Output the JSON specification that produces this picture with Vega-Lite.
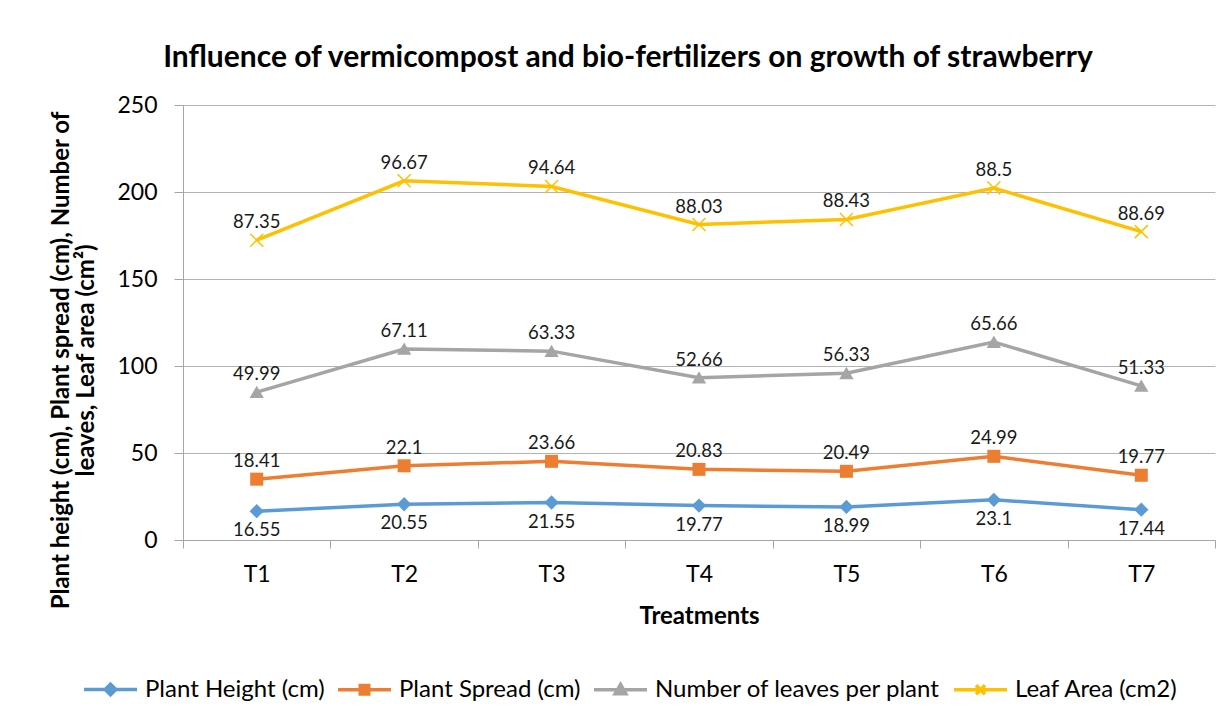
{
  "$schema": "https://vega.github.io/schema/vega-lite/v6.json",
  "width": 1032,
  "height": 435,
  "autosize": {"type": "none"},
  "padding": {"left": 183, "top": 105, "right": 16, "bottom": 181},
  "background": "white",
  "config": {"view": {"stroke": null}, "font": "Lato"},
  "title": {"text": "Influence of vermicompost and bio-fertilizers on growth of strawberry", "fontSize": 30, "font": "Lato", "fontWeight": "bold", "color": "#000000", "anchor": "middle", "frame": "group", "dx": -71, "offset": 21},
  "data": {"values": [
    {"treatment": "T1", "series": "Plant Height (cm)", "order": 1, "value": 16.55},
    {"treatment": "T2", "series": "Plant Height (cm)", "order": 1, "value": 20.55},
    {"treatment": "T3", "series": "Plant Height (cm)", "order": 1, "value": 21.55},
    {"treatment": "T4", "series": "Plant Height (cm)", "order": 1, "value": 19.77},
    {"treatment": "T5", "series": "Plant Height (cm)", "order": 1, "value": 18.99},
    {"treatment": "T6", "series": "Plant Height (cm)", "order": 1, "value": 23.1},
    {"treatment": "T7", "series": "Plant Height (cm)", "order": 1, "value": 17.44},
    {"treatment": "T1", "series": "Plant Spread (cm)", "order": 2, "value": 18.41},
    {"treatment": "T2", "series": "Plant Spread (cm)", "order": 2, "value": 22.1},
    {"treatment": "T3", "series": "Plant Spread (cm)", "order": 2, "value": 23.66},
    {"treatment": "T4", "series": "Plant Spread (cm)", "order": 2, "value": 20.83},
    {"treatment": "T5", "series": "Plant Spread (cm)", "order": 2, "value": 20.49},
    {"treatment": "T6", "series": "Plant Spread (cm)", "order": 2, "value": 24.99},
    {"treatment": "T7", "series": "Plant Spread (cm)", "order": 2, "value": 19.77},
    {"treatment": "T1", "series": "Number of leaves per plant", "order": 3, "value": 49.99},
    {"treatment": "T2", "series": "Number of leaves per plant", "order": 3, "value": 67.11},
    {"treatment": "T3", "series": "Number of leaves per plant", "order": 3, "value": 63.33},
    {"treatment": "T4", "series": "Number of leaves per plant", "order": 3, "value": 52.66},
    {"treatment": "T5", "series": "Number of leaves per plant", "order": 3, "value": 56.33},
    {"treatment": "T6", "series": "Number of leaves per plant", "order": 3, "value": 65.66},
    {"treatment": "T7", "series": "Number of leaves per plant", "order": 3, "value": 51.33},
    {"treatment": "T1", "series": "Leaf Area (cm2)", "order": 4, "value": 87.35},
    {"treatment": "T2", "series": "Leaf Area (cm2)", "order": 4, "value": 96.67},
    {"treatment": "T3", "series": "Leaf Area (cm2)", "order": 4, "value": 94.64},
    {"treatment": "T4", "series": "Leaf Area (cm2)", "order": 4, "value": 88.03},
    {"treatment": "T5", "series": "Leaf Area (cm2)", "order": 4, "value": 88.43},
    {"treatment": "T6", "series": "Leaf Area (cm2)", "order": 4, "value": 88.5},
    {"treatment": "T7", "series": "Leaf Area (cm2)", "order": 4, "value": 88.69}
  ]},
  "transform": [
    {"stack": "value", "groupby": ["treatment"], "sort": [{"field": "order", "order": "ascending"}], "as": ["v0", "v1"]}
  ],
  "encoding": {
    "x": {"field": "treatment", "type": "nominal", "scale": {"type": "band", "paddingInner": 0, "paddingOuter": 0},
      "axis": {"title": "Treatments", "labelAngle": 0, "tickBand": "extent", "ticks": true, "tickSize": 8, "tickColor": "#a6a6a6", "domainColor": "#a6a6a6", "labelFontSize": 23, "labelColor": "#000000", "labelPadding": 15, "titleFontSize": 24, "titleFontWeight": "bold", "titleColor": "#000000", "titlePadding": 18, "grid": false}},
    "y": {"field": "v1", "type": "quantitative", "scale": {"domain": [0, 250]},
      "axis": {"title": ["Plant height (cm), Plant spread (cm), Number of", "leaves, Leaf area (cm²)"], "values": [0, 50, 100, 150, 200, 250], "grid": true, "gridColor": "#b3b3b3", "gridWidth": 1, "domainColor": "#a6a6a6", "tickColor": "#a6a6a6", "tickSize": 9, "labelFontSize": 23, "labelColor": "#000000", "labelPadding": 17, "titleFontSize": 24, "titleFontWeight": "bold", "titleColor": "#000000", "titleLineHeight": 25, "titleY": 255, "titlePadding": 18}}
  },
  "layer": [
    {
      "mark": {"type": "line", "strokeWidth": 3.5},
      "encoding": {
        "color": {"field": "series", "type": "nominal",
          "scale": {"domain": ["Plant Height (cm)", "Plant Spread (cm)", "Number of leaves per plant", "Leaf Area (cm2)"], "range": ["#5B9BD5", "#ED7D31", "#A5A5A5", "#FFC000"]},
          "legend": {"title": null, "orient": "none", "legendX": -101, "legendY": 556, "direction": "horizontal", "columns": 4, "symbolSize": 2809, "labelFontSize": 24, "labelFont": "Lato", "labelColor": "#000000", "labelLimit": 500, "columnPadding": 6, "labelOffset": 6, "symbolStrokeWidth": 3.5,
            "encode": {"symbols": {"update": {
              "shape": {"signal": "datum.value === 'Plant Height (cm)' ? 'M-1,0H1M0,-0.2L0.2,0L0,0.2L-0.2,0Z' : datum.value === 'Plant Spread (cm)' ? 'M-1,0H1M-0.16,-0.16H0.16V0.16H-0.16Z' : datum.value === 'Number of leaves per plant' ? 'M-1,0H1M0,-0.2L0.2,0.15H-0.2Z' : 'M-1,0H1M-0.17,-0.17L0.17,0.17M-0.17,0.17L0.17,-0.17'"},
              "fill": {"scale": "color", "field": "value"},
              "stroke": {"scale": "color", "field": "value"},
              "strokeWidth": {"value": 3.5},
              "opacity": {"value": 1}
            }}}
          }
        }
      }
    },
    {
      "transform": [{"filter": "datum.series !== 'Leaf Area (cm2)'"}],
      "mark": {"type": "point", "filled": true, "opacity": 1, "size": 169},
      "encoding": {
        "color": {"field": "series", "type": "nominal"},
        "shape": {"field": "series", "type": "nominal", "scale": {"domain": ["Plant Height (cm)", "Plant Spread (cm)", "Number of leaves per plant"], "range": ["M0,-1.1L1.1,0L0,1.1L-1.1,0Z", "M-1,-1H1V1H-1Z", "M0,-1L1.1,0.9H-1.1Z"]}, "legend": null}
      }
    },
    {
      "transform": [{"filter": "datum.series === 'Leaf Area (cm2)'"}],
      "mark": {"type": "point", "filled": false, "opacity": 1, "size": 169, "strokeWidth": 1.5, "shape": "M-1,-1L1,1M-1,1L1,-1"},
      "encoding": {
        "color": {"field": "series", "type": "nominal"}
      }
    },
    {
      "transform": [{"filter": "datum.series !== 'Plant Height (cm)'"}],
      "mark": {"type": "text", "fontSize": 18.5, "font": "Lato", "color": "#1a1a1a", "baseline": "alphabetic", "dy": -12},
      "encoding": {"text": {"field": "value", "type": "quantitative"}}
    },
    {
      "transform": [{"filter": "datum.series === 'Plant Height (cm)'"}],
      "mark": {"type": "text", "fontSize": 18.5, "font": "Lato", "color": "#1a1a1a", "baseline": "alphabetic", "dy": 25},
      "encoding": {"text": {"field": "value", "type": "quantitative"}}
    }
  ]
}
